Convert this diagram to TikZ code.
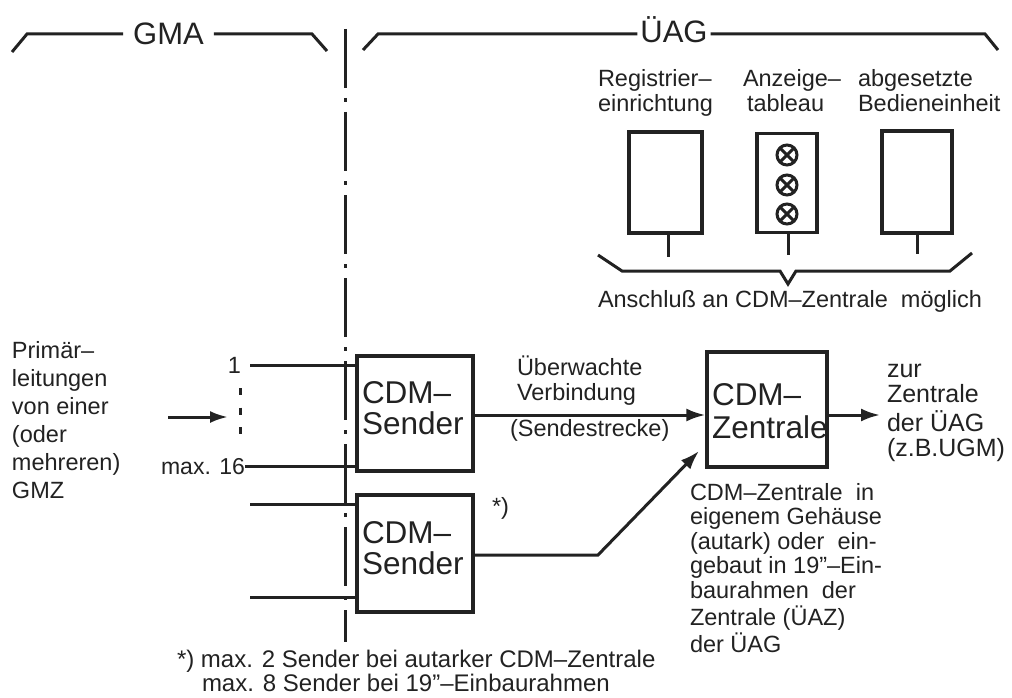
\documentclass[tikz,border=0pt]{standalone}
\usepackage{fontspec}
\setmainfont{Liberation Sans}
\usetikzlibrary{arrows.meta}
\definecolor{ink}{HTML}{222222}
\newcommand{\fsz}[2]{\fontsize{#1}{#2}\selectfont}
\newcommand{\tblock}[1]{\begin{tabular}[t]{@{}l@{}}#1\end{tabular}}
\begin{document}
\begin{tikzpicture}[x=1pt,y=-1pt,
  ln/.style={draw=ink,line width=3pt},
  boxst/.style={draw=ink,line width=3.2pt,fill=white,inner sep=0pt},
  tx/.style={inner sep=0pt,outer sep=0pt,text=ink,anchor=base west,font=\fsz{23.5}{28}},
  big/.style={tx,font=\fsz{31.5}{29}},
  arr/.style={ln,-{Latex[length=19pt,width=13pt]}},
  dashdot/.style={draw=ink,line width=3pt,dash pattern=on 59pt off 10pt on 4pt off 10pt},
  lamp/.style={circle,draw=ink,line width=3pt,minimum size=20pt,inner sep=0pt,
    path picture={\draw[ink,line width=3pt] (path picture bounding box.north west)--(path picture bounding box.south east) (path picture bounding box.north east)--(path picture bounding box.south west);}},
]
\fill[white] (0,0) rectangle (1012,698);
\useasboundingbox (0,0) rectangle (1012,698);

% ---- top braces
\node[tx,anchor=base,font=\fsz{31}{31},inner xsep=10pt] (gma) at (168.5,45) {GMA};
\coordinate (g1) at (27,34);
\coordinate (g2) at (312,34);
\draw[ln] (12,52) -- (g1) -- (g1 -| gma.west);
\draw[ln] (gma.east |- g2) -- (g2) -- (327,51);

\node[tx,anchor=base,font=\fsz{31}{31},inner xsep=3pt] (uag) at (674,43) {ÜAG};
\coordinate (u1) at (378,34);
\coordinate (u2) at (985,34);
\draw[ln] (363,50) -- (u1) -- (u1 -| uag.west);
\draw[ln] (uag.east |- u2) -- (u2) -- (998,50);

% ---- divider
\coordinate (divtop) at (345,29);
\coordinate (divbot) at (345,642);
\draw[dashdot] (divtop) -- (divbot);

% ---- top devices
\node[tx,font=\fsz{23.5}{23.5}] (regt) at (598,87) {\tblock{Registrier–\\einrichtung}};
\node[tx,font=\fsz{23.5}{23.5}] (anzt) at (743,87) {\tblock{Anzeige–\\\hspace{4pt}tableau}};
\node[tx,font=\fsz{23.5}{23.5}] (abgt) at (858,87) {\tblock{abgesetzte\\Bedieneinheit}};

\node[boxst,minimum width=73pt,minimum height=101pt] (reg) at (665.5,182.5) {};
\node[boxst,minimum width=60pt,minimum height=99pt] (anz) at (787,183) {};
\node[boxst,minimum width=70pt,minimum height=102pt] (abg) at (917,182) {};
\node[lamp] (l1) at (787,155) {};
\node[lamp] (l2) at (787,185) {};
\node[lamp] (l3) at (787,214) {};

\coordinate (rs) at (668,257);
\coordinate (as) at (788,255);
\coordinate (bs) at (917,254);
\draw[ln] (reg.south -| rs) -- (rs);
\draw[ln] (anz.south -| as) -- (as);
\draw[ln] (abg.south -| bs) -- (bs);

\draw[ln] (598,255) -- (622,271) -- (780,271) -- (788,284) -- (796,271) -- (950,271) -- (972,253);
\node[tx] (ansch) at (598,307) {Anschluß an CDM–Zentrale\ \ möglich};

% ---- left text and inputs
\node[tx,font=\fsz{23.5}{28}] (prim) at (12,358) {\tblock{Primär–\\leitungen\\von einer\\(oder\\mehreren)\\GMZ}};
\coordinate (ain1) at (168,417);
\coordinate (ain2) at (228,417);
\draw[ln,-{Latex[length=18pt,width=12pt]}] (ain1) -- (ain2);
\coordinate (dtop) at (240,388);
\coordinate (dbot) at (240,434);
\draw[ln,dash pattern=on 7pt off 12.5pt] (dtop) -- (dbot);

\node[tx,anchor=base east] (n1) at (241,373) {1};
\node[tx,anchor=base east,font=\fsz{23}{28}] (n16) at (245,474) {max. 16};

% ---- sender boxes
\node[boxst,minimum width=116pt,minimum height=115pt] (s1) at (415,413.5) {};
\node[boxst,minimum width=116pt,minimum height=117pt] (s2) at (415,553.5) {};
\node[big] (s1t) at (362,403) {\tblock{CDM–\\Sender}};
\node[big] (s2t) at (362,543) {\tblock{CDM–\\Sender}};

\coordinate (in1) at (250,365);
\coordinate (in16) at (245,466);
\coordinate (in3) at (250,504);
\coordinate (in4) at (250,597);
\draw[ln] (in1) -- (in1 -| s1.west);
\draw[ln] (in16) -- (in16 -| s1.west);
\draw[ln] (in3) -- (in3 -| s2.west);
\draw[ln] (in4) -- (in4 -| s2.west);

% ---- Zentrale
\node[boxst,minimum width=120pt,minimum height=115pt] (z) at (767,409.5) {};
\node[big,font=\fsz{31.5}{33}] (zt) at (712,405) {\tblock{CDM–\\Zentrale}};

\coordinate (mid) at (600,415);
\draw[arr] (s1.east |- mid) -- (z.west |- mid);
\coordinate (outend) at (880,415);
\draw[arr] (z.east |- outend) -- (outend);
\coordinate (bend) at (598,555);
\coordinate (tip) at (699,451);
\draw[arr] (s2.east |- bend) -- (bend) -- (tip);

\node[tx,font=\fsz{23.5}{25}] (uew) at (517,375) {\tblock{Überwachte\\Verbindung}};
\node[tx] (send) at (510,436) {(Sendestrecke)};
\node[tx] (star) at (492,514) {*)};

\node[tx,font=\fsz{25}{25}] (zur) at (887,377) {\tblock{zur\\Zentrale\\der ÜAG\\(z.B.UGM)}};
\node[tx,font=\fsz{23.5}{24.5}] (zdesc) at (690,500) {\tblock{CDM–Zentrale\ \ in\\eigenem Gehäuse\\(autark) oder\ \ ein-\\gebaut in 19”–Ein-\\baurahmen\ \ der\\Zentrale (ÜAZ)\\der ÜAG}};

% ---- footnote
\node[tx,font=\fsz{24}{25}] (fn1) at (177,667) {*) max. 2 Sender bei autarker CDM–Zentrale};
\node[tx,font=\fsz{24}{25}] (fn2) at (202,691) {max. 8 Sender bei 19”–Einbaurahmen};
\end{tikzpicture}
\end{document}
